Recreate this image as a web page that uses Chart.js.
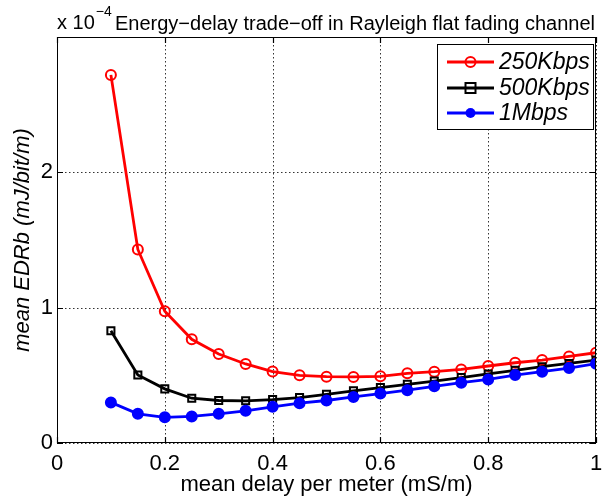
<!DOCTYPE html>
<html>
<head>
<meta charset="utf-8">
<script src="https://cdn.jsdelivr.net/npm/chart.js@4"></script>
<style>
  html, body { margin: 0; padding: 0; background: #fff; }
  #wrap { width: 603px; height: 502px; }
</style>
</head>
<body>
<div id="wrap"><canvas id="grafico" width="603" height="502"></canvas></div>
<script>
// mean delay per meter (mS/m)
const delay = [0.1, 0.15, 0.2, 0.25, 0.3, 0.35, 0.4, 0.45, 0.5, 0.55, 0.6, 0.65, 0.7, 0.75, 0.8, 0.85, 0.9, 0.95, 1.0];
// mean EDRb in units of 1e-4 mJ/bit/m
const edr250 = [2.72, 1.43, 0.974, 0.766, 0.658, 0.584, 0.528, 0.50, 0.49, 0.488, 0.493, 0.515, 0.527, 0.544, 0.569, 0.593, 0.613, 0.64, 0.667];
const edr500 = [0.83, 0.503, 0.40, 0.331, 0.314, 0.312, 0.321, 0.336, 0.36, 0.385, 0.409, 0.434, 0.458, 0.483, 0.51, 0.537, 0.564, 0.588, 0.613];
const edr1M = [0.30, 0.216, 0.19, 0.196, 0.216, 0.238, 0.267, 0.294, 0.314, 0.34, 0.365, 0.39, 0.419, 0.446, 0.47, 0.502, 0.527, 0.554, 0.586];
const etiquetas = ['250Kbps', '500Kbps', '1Mbps'];
const xTicks = [0, 0.2, 0.4, 0.6, 0.8, 1];
const yTicks = [0, 1, 2, 3];

const FONT = '"Liberation Sans", Arial, Helvetica, sans-serif';

function puntos(ys) {
  return delay.map((x, i) => ({ x, y: ys[i] }));
}

function marcador(ctx, tipo, x, y, color) {
  ctx.save();
  ctx.lineWidth = 2;
  ctx.strokeStyle = color;
  ctx.fillStyle = color;
  ctx.beginPath();
  if (tipo === 'rect') {
    ctx.rect(x - 5, y - 5, 10, 10);
    ctx.stroke();
  } else if (tipo === 'dot') {
    ctx.arc(x, y, 5, 0, Math.PI * 2);
    ctx.fill();
  } else {
    ctx.arc(x, y, 5, 0, Math.PI * 2);
    ctx.stroke();
  }
  ctx.restore();
}

// rejilla punteada estilo MATLAB
const rejilla = {
  id: 'rejilla',
  beforeDatasetsDraw(chart) {
    const ctx = chart.ctx;
    const a = chart.chartArea;
    const sx = chart.scales.x, sy = chart.scales.y;
    ctx.save();
    ctx.strokeStyle = '#333';
    ctx.lineWidth = 1;
    ctx.setLineDash([1.5, 2.5]);
    ctx.beginPath();
    xTicks.forEach(t => {
      const px = Math.round(sx.getPixelForValue(t)) + 0.5;
      ctx.moveTo(px, a.top); ctx.lineTo(px, a.bottom);
    });
    yTicks.forEach(t => {
      const py = Math.round(sy.getPixelForValue(t)) + 0.5;
      ctx.moveTo(a.left, py); ctx.lineTo(a.right, py);
    });
    ctx.stroke();
    ctx.restore();
  }
};

const extras = {
  id: 'extras',
  afterDraw(chart) {
    const ctx = chart.ctx;
    const a = chart.chartArea;
    const sx = chart.scales.x, sy = chart.scales.y;
    ctx.save();

    // caja y marcas interiores
    ctx.strokeStyle = '#000';
    ctx.lineWidth = 1;
    ctx.strokeRect(a.left + 0.5, a.top + 0.5, a.right - a.left - 1, a.bottom - a.top - 1);
    ctx.lineWidth = 1.2;
    ctx.beginPath();
    xTicks.forEach(t => {
      const px = Math.round(sx.getPixelForValue(t)) + 0.5;
      ctx.moveTo(px, a.bottom); ctx.lineTo(px, a.bottom - 6);
      ctx.moveTo(px, a.top); ctx.lineTo(px, a.top + 6);
    });
    yTicks.forEach(t => {
      const py = Math.round(sy.getPixelForValue(t)) + 0.5;
      ctx.moveTo(a.left, py); ctx.lineTo(a.left + 6, py);
      ctx.moveTo(a.right, py); ctx.lineTo(a.right - 6, py);
    });
    ctx.stroke();

    // exponente y titulo
    ctx.fillStyle = '#000';
    ctx.textBaseline = 'alphabetic';
    ctx.textAlign = 'left';
    ctx.font = '20px ' + FONT;
    ctx.fillText('x 10', 57, 29);
    const w = ctx.measureText('x 10').width;
    ctx.font = '14px ' + FONT;
    ctx.fillText('\u22124', 57 + w + 1, 16);
    ctx.font = '20px ' + FONT;
    ctx.fillText('Energy\u2212delay trade\u2212off in Rayleigh flat fading channel', 115, 30);

    // ejes
    ctx.font = '22px ' + FONT;
    ctx.textAlign = 'center';
    ctx.fillText('mean delay per meter (mS/m)', (a.left + a.right) / 2, 491);
    ctx.save();
    ctx.translate(29, (a.top + a.bottom) / 2);
    ctx.rotate(-Math.PI / 2);
    ctx.font = 'italic 22px ' + FONT;
    ctx.fillText('mean EDRb (mJ/bit/m)', 0, 0);
    ctx.restore();

    // leyenda
    const lx = 437, ly = 44, lw = 156, lh = 85;
    ctx.fillStyle = '#fff';
    ctx.fillRect(lx, ly, lw, lh);
    ctx.strokeStyle = '#000';
    ctx.lineWidth = 1;
    ctx.strokeRect(lx + 0.5, ly + 0.5, lw, lh);
    const filas = [62, 88, 113];
    chart.data.datasets.forEach((ds, i) => {
      const y = filas[i];
      ctx.strokeStyle = ds.borderColor;
      ctx.lineWidth = 2.8;
      ctx.beginPath();
      ctx.moveTo(447, y); ctx.lineTo(494, y);
      ctx.stroke();
      marcador(ctx, ds.tipo, 470.5, y, ds.borderColor);
      ctx.fillStyle = '#000';
      ctx.textAlign = 'left';
      ctx.textBaseline = 'middle';
      ctx.font = 'italic 23px ' + FONT;
      ctx.fillText(etiquetas[i], 499, y + 1);
    });
    ctx.restore();
  }
};

const series = [
  { ys: edr250, color: '#ff0000', tipo: 'circle', order: 3 },
  { ys: edr500, color: '#000000', tipo: 'rect', order: 2 },
  { ys: edr1M, color: '#0000ff', tipo: 'dot', order: 1 }
];

new Chart(document.getElementById('grafico'), {
  type: 'line',
  data: {
    datasets: series.map((s, i) => ({
      label: etiquetas[i],
      data: puntos(s.ys),
      tipo: s.tipo,
      order: s.order,
      borderColor: s.color,
      borderWidth: 2.8,
      tension: 0,
      pointStyle: s.tipo === 'dot' ? 'circle' : s.tipo,
      pointRadius: 5,
      pointBorderWidth: 2,
      pointBackgroundColor: s.tipo === 'dot' ? s.color : 'rgba(0,0,0,0)',
      pointBorderColor: s.color
    }))
  },
  options: {
    responsive: false,
    animation: false,
    layout: { padding: { top: 37, right: 3, left: 0, bottom: 0 } },
    plugins: { legend: { display: false }, tooltip: { enabled: false } },
    scales: {
      x: {
        type: 'linear', min: 0, max: 1,
        afterBuildTicks: s => { s.ticks = xTicks.map(v => ({ value: v })); },
        afterFit: s => { s.height = 59; s.paddingLeft = 0; s.paddingRight = 0; },
        ticks: {
          color: '#000', padding: 8, maxRotation: 0, font: { family: FONT, size: 22 },
          callback: v => String(Number(v.toFixed(1)))
        },
        grid: { display: false, drawTicks: false },
        border: { display: false }
      },
      y: {
        min: 0, max: 3,
        afterBuildTicks: s => { s.ticks = yTicks.map(v => ({ value: v })); },
        afterFit: s => { s.width = 57; s.paddingTop = 0; s.paddingBottom = 0; },
        ticks: {
          color: '#000', padding: 4, font: { family: FONT, size: 22 },
          callback: v => (v === 3 ? '' : String(v))
        },
        grid: { display: false, drawTicks: false },
        border: { display: false }
      }
    }
  },
  plugins: [rejilla, extras]
});
</script>
</body>
</html>
